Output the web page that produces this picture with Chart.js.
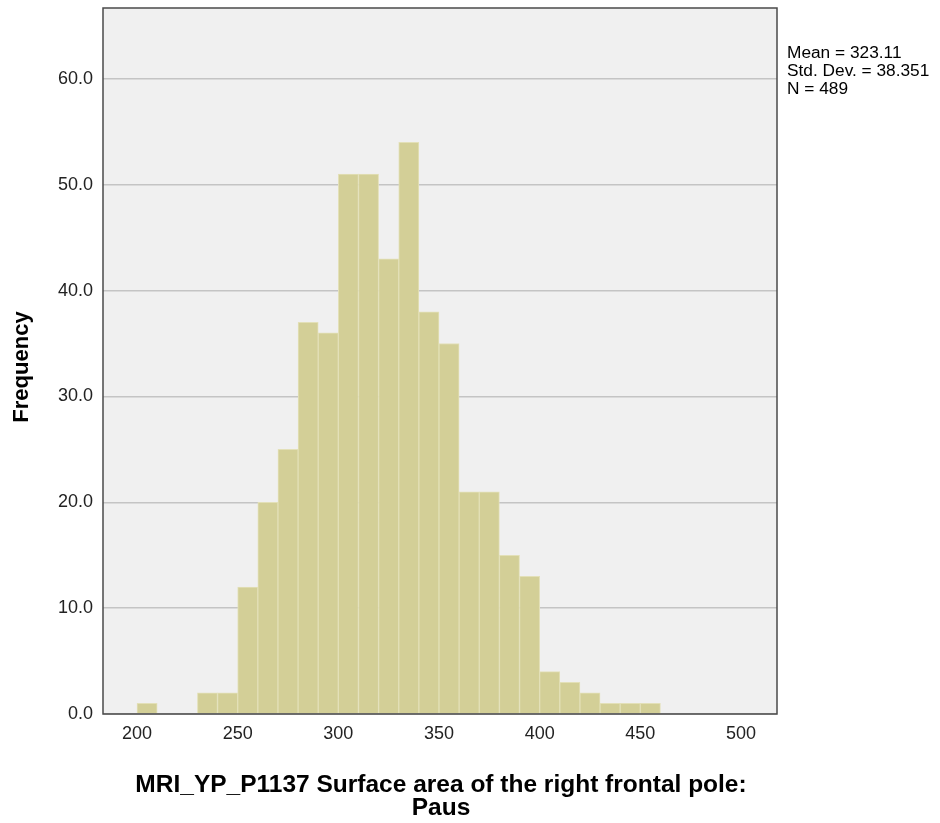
<!DOCTYPE html>
<html>
<head>
<meta charset="utf-8">
<script src="https://cdn.jsdelivr.net/npm/chart.js@4"></script>
<style>
  html, body { margin: 0; padding: 0; background: #fff; }
  #wrap { width: 940px; height: 823px; position: relative; }
</style>
</head>
<body>
<div id="wrap"><canvas id="chart" width="940" height="823"></canvas></div>
<script>
// histogram bins (lower edge) and counts
const binStart = [200, 210, 220, 230, 240, 250, 260, 270, 280, 290, 300, 310, 320, 330, 340, 350, 360, 370, 380, 390, 400, 410, 420, 430, 440, 450];
const counts   = [1, 0, 0, 2, 2, 12, 20, 25, 37, 36, 51, 51, 43, 54, 38, 35, 21, 21, 15, 13, 4, 3, 2, 1, 1, 1];
const binWidth = 10;
const yTicks = [0, 10, 20, 30, 40, 50, 60];
const xTicks = [200, 250, 300, 350, 400, 450, 500];
const stats = ["Mean = 323.11", "Std. Dev. = 38.351", "N = 489"];
const xTitle = ["MRI_YP_P1137 Surface area of the right frontal pole:", "Paus"];
const yTitle = "Frequency";

const FONT = "'Liberation Sans', Arial, sans-serif";

const frame = {
  id: "frame",
  beforeDraw(c) {
    const a = c.chartArea, ctx = c.ctx;
    ctx.save();
    ctx.fillStyle = "#f0f0f0";
    ctx.fillRect(a.left, a.top, a.right - a.left, a.bottom - a.top);
    ctx.restore();
  },
  afterDraw(c) {
    const a = c.chartArea, ctx = c.ctx;
    ctx.save();
    ctx.strokeStyle = "#4a4a4a";
    ctx.lineWidth = 1.5;
    ctx.strokeRect(a.left, a.top, a.right - a.left, a.bottom - a.top);

    ctx.fillStyle = "#000";
    ctx.font = "bold 24.5px " + FONT;
    ctx.textAlign = "center";
    ctx.textBaseline = "middle";
    ctx.fillText(xTitle[0], 441, 785);
    ctx.fillText(xTitle[1], 441, 808);

    ctx.save();
    ctx.font = "bold 22px " + FONT;
    ctx.translate(22, 367);
    ctx.rotate(-Math.PI / 2);
    ctx.fillText(yTitle, 0, 0);
    ctx.restore();

    ctx.font = "17.3px " + FONT;
    ctx.textAlign = "left";
    stats.forEach((s, i) => ctx.fillText(s, 787, 53 + i * 18));
    ctx.restore();
  }
};

new Chart(document.getElementById("chart"), {
  type: "bar",
  data: {
    datasets: [{
      data: binStart.map((b, i) => ({ x: b + binWidth / 2, y: counts[i] })),
      backgroundColor: "#d3cf97",
      borderColor: "#e3e0b8",
      borderWidth: 1,
      barPercentage: 1,
      categoryPercentage: 1,
      grouped: false
    }]
  },
  options: {
    responsive: false,
    animation: false,
    layout: { padding: { left: 0, top: 8, right: 163, bottom: 0 } },
    plugins: { legend: { display: false }, tooltip: { enabled: false } },
    scales: {
      x: {
        type: "linear",
        offset: false,
        min: 183.1,
        max: 517.9,
        afterFit: (s) => { s.height = 109; s.paddingLeft = 0; s.paddingRight = 0; },
        afterBuildTicks: (s) => { s.ticks = xTicks.map((v) => ({ value: v })); },
        grid: { display: false, drawTicks: false, offset: false },
        border: { display: false },
        ticks: { font: { family: FONT, size: 18 }, color: "#222", padding: 9, maxRotation: 0 }
      },
      y: {
        min: 0,
        max: 66.7,
        afterFit: (s) => { s.width = 103; s.paddingTop = 0; s.paddingBottom = 0; },
        afterBuildTicks: (s) => { s.ticks = yTicks.map((v) => ({ value: v })); },
        grid: { color: "#c4c4c4", lineWidth: 1.5, drawTicks: false },
        border: { display: false },
        ticks: {
          font: { family: FONT, size: 18 }, color: "#222", padding: 10,
          callback: (v) => v.toFixed(1)
        }
      }
    }
  },
  plugins: [frame]
});
</script>
</body>
</html>
